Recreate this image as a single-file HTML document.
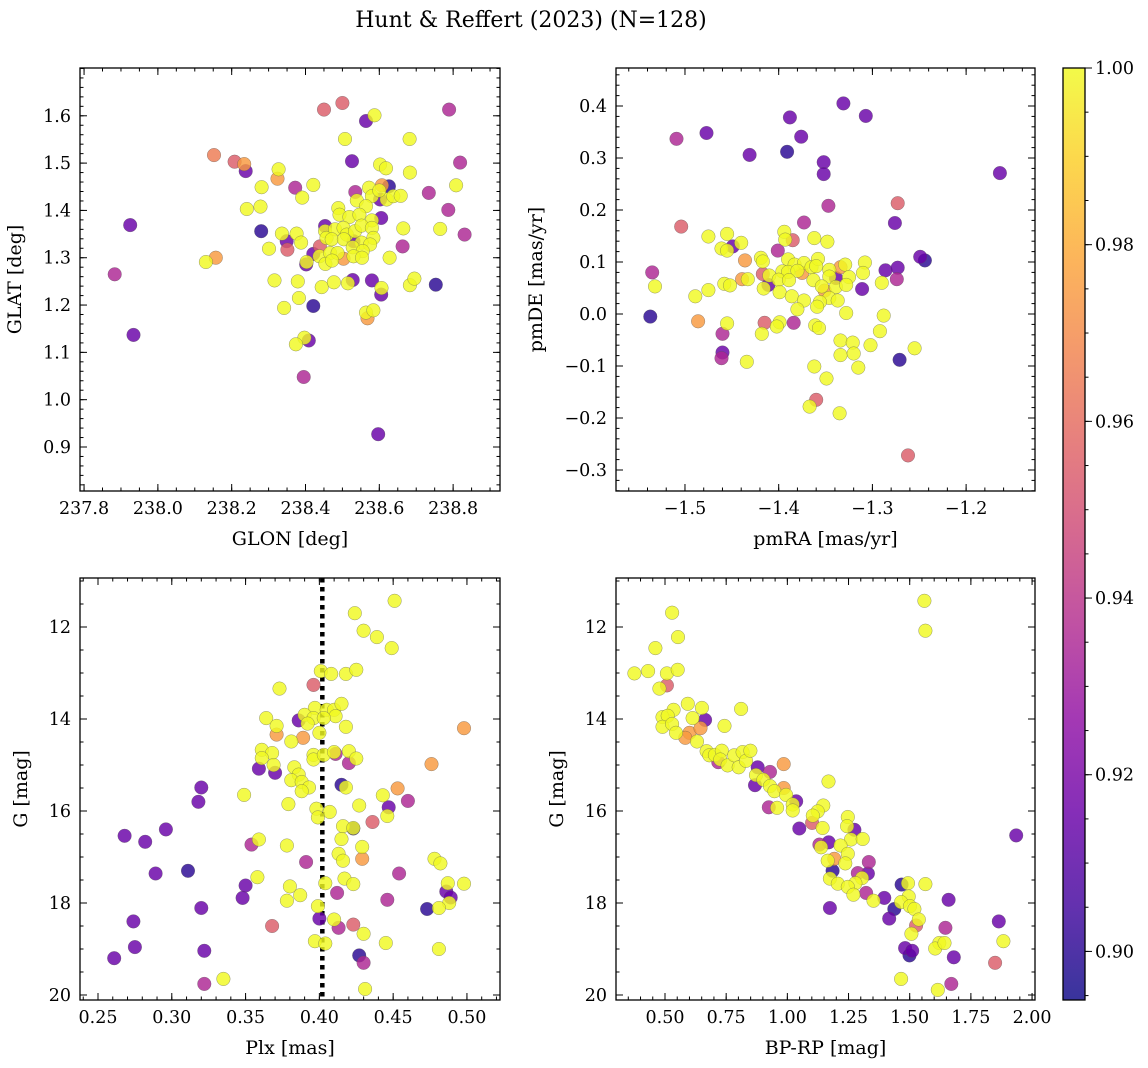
<!DOCTYPE html>
<html><head><meta charset="utf-8">
<style>
html,body{margin:0;padding:0;background:#fff;}
svg{display:block;font-family:"DejaVu Serif","Liberation Serif",serif;}
</style></head>
<body>
<svg id="fig" width="1148" height="1068" viewBox="0 0 1148 1068" xmlns="http://www.w3.org/2000/svg">
<defs>
<linearGradient id="plasmaGrad" x1="0" y1="1" x2="0" y2="0">
<stop offset="0" stop-color="#0d0887"/><stop offset="0.1" stop-color="#41049d"/><stop offset="0.2" stop-color="#6a00a8"/><stop offset="0.3" stop-color="#8f0da4"/><stop offset="0.4" stop-color="#b12a90"/><stop offset="0.5" stop-color="#cc4778"/><stop offset="0.6" stop-color="#e16462"/><stop offset="0.7" stop-color="#f2844b"/><stop offset="0.8" stop-color="#fca636"/><stop offset="0.9" stop-color="#fcce25"/><stop offset="1" stop-color="#f0f921"/>
</linearGradient>
</defs>
<text x="531" y="27" font-size="22" text-anchor="middle">Hunt &amp; Reffert (2023) (N=128)</text>
</svg>
<script>
const Y=1.0,P=0.915,D=0.90,M=0.935,R=0.955,O=0.975;
const VMIN=0.8945,VMAX=1.0;

// Panel 1: GLON vs GLAT
const glon=[238.450,238.500,238.564,238.587,238.789,238.507,238.682,238.152,238.208,238.234,238.238,238.327,238.324,238.526,238.819,238.602,238.618,238.683,238.281,238.372,238.421,238.391,238.535,238.539,238.572,238.607,238.626,238.580,238.602,238.620,238.638,238.658,238.600,238.734,238.808,238.241,238.278,238.787,238.564,238.489,238.492,238.519,238.546,238.605,238.580,237.925,237.934,237.883,238.280,238.453,238.453,238.457,238.480,238.503,238.512,238.534,238.552,238.580,238.584,238.665,238.765,238.831,238.336,238.349,238.376,238.388,238.471,238.504,238.530,238.552,238.575,238.301,238.351,238.421,238.439,238.438,238.467,238.487,238.528,238.555,238.663,238.130,238.157,238.402,238.403,238.454,238.472,238.503,238.530,238.553,238.628,238.316,238.379,238.444,238.477,238.528,238.515,238.580,238.605,238.606,238.683,238.695,238.753,238.382,238.342,238.421,238.564,238.584,238.568,238.397,238.409,238.374,238.395,238.597,238.375];
const glat=[1.613,1.627,1.589,1.601,1.613,1.551,1.551,1.517,1.503,1.498,1.483,1.487,1.467,1.504,1.501,1.497,1.489,1.480,1.449,1.448,1.454,1.427,1.439,1.421,1.448,1.453,1.451,1.430,1.423,1.423,1.430,1.431,1.442,1.437,1.453,1.403,1.408,1.401,1.409,1.405,1.391,1.386,1.391,1.384,1.379,1.369,1.137,1.265,1.356,1.367,1.356,1.342,1.360,1.363,1.349,1.356,1.368,1.363,1.342,1.362,1.361,1.349,1.351,1.335,1.351,1.332,1.339,1.339,1.335,1.332,1.328,1.319,1.317,1.308,1.324,1.303,1.310,1.310,1.322,1.314,1.324,1.291,1.300,1.286,1.291,1.287,1.294,1.298,1.303,1.300,1.300,1.252,1.250,1.238,1.248,1.253,1.246,1.252,1.222,1.236,1.242,1.256,1.243,1.215,1.194,1.198,1.184,1.189,1.172,1.131,1.125,1.117,1.048,0.927,0.881];
const p1prob=[R,R,P,Y,M,Y,Y,0.965,R,O,P,Y,O,P,M,Y,Y,Y,Y,M,Y,Y,M,Y,Y,O,D,Y,P,Y,Y,Y,Y,M,Y,Y,Y,M,Y,Y,Y,Y,Y,P,Y,P,P,M,D,P,Y,Y,Y,Y,Y,Y,Y,Y,Y,Y,Y,M,Y,P,Y,Y,Y,Y,P,Y,Y,Y,R,P,R,Y,Y,Y,Y,Y,M,Y,O,P,Y,Y,Y,O,Y,Y,Y,Y,Y,Y,Y,P,Y,P,P,Y,Y,Y,D,Y,Y,D,Y,Y,O,Y,P,Y,M,P];

// Panel 2: pmRA vs pmDE
const pmra=[-1.331,-1.307,-1.388,-1.376,-1.509,-1.477,-1.431,-1.391,-1.352,-1.352,-1.164,-1.347,-1.273,-1.373,-1.276,-1.504,-1.475,-1.455,-1.394,-1.385,-1.393,-1.362,-1.348,-1.449,-1.440,-1.461,-1.455,-1.401,-1.436,-1.419,-1.417,-1.390,-1.383,-1.373,-1.365,-1.358,-1.360,-1.346,-1.334,-1.329,-1.308,-1.249,-1.244,-1.535,-1.286,-1.273,-1.310,-1.274,-1.410,-1.417,-1.396,-1.390,-1.380,-1.375,-1.400,-1.389,-1.346,-1.339,-1.325,-1.363,-1.532,-1.439,-1.433,-1.458,-1.452,-1.411,-1.416,-1.475,-1.489,-1.399,-1.354,-1.351,-1.339,-1.328,-1.290,-1.311,-1.386,-1.373,-1.346,-1.337,-1.356,-1.359,-1.380,-1.328,-1.288,-1.537,-1.486,-1.455,-1.415,-1.384,-1.399,-1.402,-1.361,-1.357,-1.460,-1.418,-1.292,-1.334,-1.321,-1.302,-1.255,-1.460,-1.461,-1.334,-1.320,-1.271,-1.434,-1.362,-1.315,-1.349,-1.360,-1.367,-1.335,-1.262];
const pmde=[0.405,0.381,0.378,0.341,0.337,0.348,0.306,0.312,0.292,0.269,0.271,0.208,0.213,0.176,0.175,0.168,0.149,0.154,0.158,0.142,0.143,0.146,0.139,0.130,0.137,0.126,0.122,0.122,0.103,0.108,0.101,0.105,0.095,0.098,0.090,0.106,0.092,0.085,0.090,0.095,0.099,0.110,0.103,0.080,0.084,0.089,0.079,0.067,0.074,0.077,0.082,0.081,0.083,0.079,0.066,0.065,0.072,0.069,0.071,0.065,0.053,0.067,0.067,0.058,0.055,0.056,0.049,0.046,0.034,0.042,0.053,0.045,0.052,0.056,0.060,0.048,0.034,0.026,0.031,0.026,0.023,0.014,0.009,0.002,-0.003,-0.005,-0.014,-0.018,-0.017,-0.017,-0.016,-0.024,-0.022,-0.027,-0.038,-0.038,-0.033,-0.051,-0.055,-0.060,-0.066,-0.074,-0.085,-0.079,-0.076,-0.088,-0.092,-0.101,-0.103,-0.124,-0.165,-0.178,-0.191,-0.272];
const p2prob=[P,P,P,P,M,P,P,D,P,P,P,M,R,M,P,R,Y,Y,Y,R,Y,Y,Y,P,Y,Y,Y,M,O,Y,Y,Y,Y,Y,Y,Y,Y,Y,O,Y,Y,P,D,M,P,P,Y,M,Y,R,Y,Y,Y,O,Y,Y,Y,P,Y,Y,Y,O,Y,Y,Y,P,Y,Y,Y,Y,Y,O,Y,Y,Y,P,Y,Y,Y,Y,Y,Y,Y,Y,Y,D,O,Y,R,M,Y,Y,Y,Y,M,Y,Y,Y,Y,Y,Y,P,M,Y,Y,D,Y,Y,Y,Y,R,Y,Y,R];

// Panel 3: Plx vs G
const plx=[0.451,0.424,0.430,0.439,0.449,0.401,0.408,0.418,0.425,0.373,0.396,0.397,0.405,0.410,0.415,0.411,0.390,0.396,0.403,0.386,0.392,0.364,0.371,0.418,0.371,0.400,0.389,0.381,0.361,0.368,0.361,0.396,0.396,0.403,0.411,0.410,0.420,0.425,0.420,0.359,0.369,0.370,0.383,0.386,0.381,0.388,0.393,0.388,0.415,0.418,0.320,0.318,0.349,0.379,0.398,0.407,0.399,0.427,0.443,0.453,0.447,0.446,0.460,0.476,0.498,0.436,0.416,0.423,0.423,0.415,0.268,0.282,0.296,0.354,0.359,0.378,0.413,0.416,0.429,0.429,0.391,0.478,0.482,0.454,0.289,0.311,0.358,0.417,0.423,0.404,0.487,0.498,0.486,0.489,0.488,0.350,0.380,0.387,0.378,0.348,0.412,0.446,0.320,0.399,0.473,0.481,0.400,0.410,0.413,0.423,0.430,0.368,0.274,0.275,0.322,0.261,0.397,0.404,0.445,0.481,0.427,0.430,0.335,0.322,0.431];
const gmag3=[11.43,11.70,12.08,12.22,12.46,12.96,13.02,13.02,12.93,13.34,13.26,13.76,13.80,13.80,13.67,13.94,13.91,13.98,13.98,14.03,14.10,13.98,14.15,14.17,14.34,14.30,14.41,14.49,14.67,14.74,14.85,14.78,14.88,14.78,14.76,14.72,14.70,14.86,14.96,15.08,15.00,15.17,15.05,15.21,15.33,15.37,15.49,15.57,15.43,15.49,15.49,15.80,15.65,15.85,15.95,16.02,16.14,15.88,15.66,15.51,15.92,16.11,15.78,14.98,14.20,16.24,16.33,16.38,16.37,16.61,16.54,16.67,16.40,16.73,16.62,16.75,16.93,17.08,16.78,17.04,17.11,17.04,17.14,17.36,17.36,17.30,17.44,17.47,17.59,17.57,17.57,17.58,17.75,17.88,18.00,17.62,17.64,17.83,17.95,17.89,17.78,17.93,18.11,18.07,18.13,18.11,18.34,18.36,18.54,18.47,18.67,18.50,18.40,18.96,19.04,19.20,18.83,18.88,18.87,19.00,19.14,19.30,19.65,19.76,19.87];
const p3prob=[Y,Y,Y,Y,Y,Y,Y,Y,Y,Y,R,Y,Y,Y,Y,Y,Y,Y,Y,P,Y,Y,Y,Y,O,Y,O,Y,Y,Y,Y,Y,Y,Y,M,Y,Y,Y,M,P,Y,P,Y,Y,Y,Y,Y,Y,D,Y,P,P,Y,Y,Y,Y,Y,Y,Y,O,P,Y,M,O,O,R,Y,D,Y,Y,P,P,P,M,Y,Y,Y,Y,Y,O,M,Y,Y,M,P,D,Y,Y,Y,Y,Y,Y,P,P,Y,P,Y,Y,Y,P,M,M,P,Y,D,Y,P,Y,M,R,Y,R,P,P,P,P,Y,Y,Y,Y,D,M,Y,M,Y];
const plxCut=0.402;

// Panel 4: BP-RP vs G
const bprp=[1.560,1.564,0.529,0.553,0.461,0.375,0.431,0.508,0.552,0.508,0.477,0.593,0.651,0.535,0.490,0.511,0.613,0.664,0.743,0.811,0.490,0.529,0.545,0.600,0.645,0.583,0.631,0.670,0.681,0.704,0.732,0.718,0.726,0.756,0.783,0.801,0.817,0.831,0.849,0.879,0.929,0.985,0.872,0.868,0.902,0.929,0.947,0.985,0.995,1.036,1.022,1.022,0.924,0.958,1.168,1.147,1.124,1.104,1.101,1.144,1.049,1.247,1.244,1.274,1.260,1.308,1.169,1.131,1.138,1.217,1.247,1.192,1.165,1.237,1.333,1.185,1.174,1.206,1.288,1.329,1.305,1.278,1.247,1.270,1.322,1.352,1.396,1.174,1.467,1.493,1.564,1.496,1.465,1.437,1.501,1.519,1.416,1.537,1.526,1.507,1.659,1.646,1.864,1.935,1.883,1.621,1.604,1.642,1.680,1.481,1.499,1.510,1.849,1.465,1.670,1.615];
const gmag4=[11.43,12.08,11.69,12.22,12.46,13.01,12.96,13.01,12.93,13.27,13.34,13.67,13.76,13.80,13.96,13.93,13.98,14.02,14.15,13.78,14.17,14.11,14.30,14.30,14.20,14.41,14.49,14.70,14.79,14.78,14.69,14.94,14.88,15.01,14.79,15.05,14.72,14.91,14.69,15.05,15.15,14.98,15.22,15.44,15.32,15.46,15.57,15.50,15.65,15.79,15.86,15.99,15.92,15.93,15.36,15.88,16.01,16.10,16.26,16.37,16.38,16.13,16.33,16.41,16.62,16.61,16.68,16.73,16.79,16.75,16.93,17.04,17.08,17.14,17.11,17.30,17.47,17.58,17.35,17.36,17.46,17.57,17.65,17.82,17.78,17.95,17.89,18.11,17.60,17.57,17.59,17.86,17.98,18.13,18.07,18.13,18.34,18.36,18.49,18.67,17.93,18.54,18.40,16.53,18.83,18.87,18.99,18.87,19.18,18.98,19.14,19.04,19.30,19.65,19.76,19.89];
const p4prob=[Y,Y,Y,Y,Y,Y,Y,Y,Y,R,Y,Y,Y,Y,Y,Y,Y,P,Y,Y,Y,Y,Y,O,O,O,Y,Y,Y,Y,Y,M,Y,Y,Y,Y,Y,Y,Y,P,M,O,Y,P,Y,Y,Y,O,Y,P,Y,Y,M,Y,Y,Y,Y,Y,R,Y,P,Y,Y,P,Y,Y,P,M,Y,Y,Y,O,Y,Y,M,D,Y,Y,M,P,Y,Y,Y,Y,M,Y,P,P,D,Y,Y,Y,Y,D,Y,Y,P,Y,R,Y,P,M,P,P,Y,Y,Y,Y,P,P,D,P,R,Y,M,Y];

const cbTicks=[0.90,0.92,0.94,0.96,0.98,1.00];

const NS="http://www.w3.org/2000/svg";
const svg=document.getElementById('fig');
const TICKFS=17.5,LABFS=19;
const stops=[[13,8,135],[65,4,157],[106,0,168],[143,13,164],[177,42,144],[204,71,120],[225,100,98],[242,132,75],[252,166,54],[252,206,37],[240,249,33]];
function plasma(v){
  let t=(v-VMIN)/(VMAX-VMIN);t=Math.max(0,Math.min(1,t))*10;
  const i=Math.min(9,Math.floor(t)),f=t-i;
  const c=stops[i].map((a,k)=>Math.round(a+(stops[i+1][k]-a)*f));
  return `rgb(${c[0]},${c[1]},${c[2]})`;
}
function el(tag,attrs,parent){const e=document.createElementNS(NS,tag);for(const k in attrs)e.setAttribute(k,attrs[k]);(parent||svg).appendChild(e);return e;}
function fmt(v,d){return v.toFixed(d).replace('-','\u2212');}

function panel(c){
  const g=el('g',{});
  
  
  const sx=v=>c.px0+(v-c.xmin)/(c.xmax-c.xmin)*(c.px1-c.px0);
  const sy=v=>c.py1+(v-c.ybot)/(c.ytop-c.ybot)*(c.py0-c.py1);
  if(c.vline!==undefined){
    const l=el('line',{x1:sx(c.vline),x2:sx(c.vline),y1:c.py0,y2:c.py1,stroke:'#000','stroke-width':4.5,'stroke-dasharray':'4.5 4.5'},g);
    
    
  }
  const idx=c.xs.map((_,i)=>i).slice(0,Math.min(c.xs.length,c.ys.length,c.ps.length));
  idx.sort((a,b)=>c.ps[a]-c.ps[b]);
  const clip='clip-'+c.name;
  const cp=el('clipPath',{id:clip},g);el('rect',{x:c.px0,y:c.py0,width:c.px1-c.px0,height:c.py1-c.py0},cp);
  const pg=el('g',{'clip-path':`url(#${clip})`},g);
  idx.forEach(i=>{
    const pt=el('circle',{cx:sx(c.xs[i]).toFixed(1),cy:sy(c.ys[i]).toFixed(1),r:6.8,fill:plasma(c.ps[i]),'fill-opacity':0.82,stroke:'#555','stroke-opacity':0.6,'stroke-width':0.5},pg);
    
    
  });
  const fr=el('rect',{x:c.px0,y:c.py0,width:c.px1-c.px0,height:c.py1-c.py0,fill:'none',stroke:'#000','stroke-width':1.3},g);
  
  
  const eps=1e-9;
  function xt(v,len){const x=sx(v);if(x<c.px0-0.5||x>c.px1+0.5)return;el('line',{x1:x,x2:x,y1:c.py1,y2:c.py1-len,stroke:'#000','stroke-width':1},g);el('line',{x1:x,x2:x,y1:c.py0,y2:c.py0+len,stroke:'#000','stroke-width':1},g);}
  function yt(v,len){const y=sy(v);if(y<c.py0-0.5||y>c.py1+0.5)return;el('line',{x1:c.px0,x2:c.px0+len,y1:y,y2:y,stroke:'#000','stroke-width':1},g);el('line',{x1:c.px1,x2:c.px1-len,y1:y,y2:y,stroke:'#000','stroke-width':1},g);}
  const xlo=Math.min(c.xmin,c.xmax),xhi=Math.max(c.xmin,c.xmax);
  for(let v=Math.ceil(xlo/c.xminor-eps)*c.xminor;v<=xhi+eps;v+=c.xminor)xt(v,3.5);
  const ylo=Math.min(c.ybot,c.ytop),yhi=Math.max(c.ybot,c.ytop);
  for(let v=Math.ceil(ylo/c.yminor-eps)*c.yminor;v<=yhi+eps;v+=c.yminor)yt(v,3.5);
  c.xticks.forEach(v=>{xt(v,7);const t=el('text',{x:sx(v),y:c.py1+23,'font-size':TICKFS,'text-anchor':'middle'},g);t.textContent=fmt(v,c.xdec);});
  c.yticks.forEach(v=>{yt(v,7);const t=el('text',{x:c.px0-9,y:sy(v)+6,'font-size':TICKFS,'text-anchor':'end'},g);t.textContent=fmt(v,c.ydec);});
  const xl=el('text',{x:(c.px0+c.px1)/2,y:c.py1+54,'font-size':LABFS,'text-anchor':'middle'},g);xl.textContent=c.xlabel;
  
  
  const yx=c.ylabelX,yy=(c.py0+c.py1)/2;
  const yl=el('text',{x:yx,y:yy,'font-size':LABFS,'text-anchor':'middle',transform:`rotate(-90 ${yx} ${yy})`},g);yl.textContent=c.ylabel;
  
  
}
function rng(a,b,s){const r=[];for(let v=a;v<=b+1e-9;v+=s)r.push(Math.round(v*1000)/1000);return r;}

panel({name:'glon-glat-panel',px0:80,px1:500,py0:68,py1:491,xmin:237.789,xmax:238.927,ybot:0.807,ytop:1.701,xs:glon,ys:glat,ps:p1prob,xticks:rng(237.8,238.8,0.2),xminor:0.05,xdec:1,yticks:rng(0.9,1.6,0.1),yminor:0.02,ydec:1,xlabel:'GLON [deg]',ylabel:'GLAT [deg]',ylabelX:21});
panel({name:'pm-panel',px0:616,px1:1035,py0:68,py1:491,xmin:-1.5736,xmax:-1.1265,ybot:-0.3404,ytop:0.4731,xs:pmra,ys:pmde,ps:p2prob,xticks:[-1.5,-1.4,-1.3,-1.2],xminor:0.02,xdec:1,yticks:rng(-0.3,0.4,0.1),yminor:0.02,ydec:1,xlabel:'pmRA [mas/yr]',ylabel:'pmDE [mas/yr]',ylabelX:542});
panel({name:'plx-g-panel',px0:80,px1:500,py0:578,py1:1000,xmin:0.2378,xmax:0.5224,ybot:20.109,ytop:10.935,xs:plx,ys:gmag3,ps:p3prob,xticks:rng(0.25,0.5,0.05),xminor:0.01,xdec:2,yticks:[12,14,16,18,20],yminor:0.5,ydec:0,xlabel:'Plx [mas]',ylabel:'G [mag]',ylabelX:27,vline:plxCut});
panel({name:'cmd-panel',px0:616,px1:1035,py0:578,py1:1000,xmin:0.2998,xmax:2.012,ybot:20.109,ytop:10.935,xs:bprp,ys:gmag4,ps:p4prob,xticks:rng(0.5,2.0,0.25),xminor:0.05,xdec:2,yticks:[12,14,16,18,20],yminor:0.5,ydec:0,xlabel:'BP-RP [mag]',ylabel:'G [mag]',ylabelX:563});

// colorbar
const cb=el('g',{});


const cx0=1063,cx1=1085,cy0=68,cy1=1000;
el('rect',{x:cx0,y:cy0,width:cx1-cx0,height:cy1-cy0,fill:'url(#plasmaGrad)','fill-opacity':0.82},cb);
el('rect',{x:cx0,y:cy0,width:cx1-cx0,height:cy1-cy0,fill:'none',stroke:'#000','stroke-width':1.3},cb);
const cby=v=>cy1-(v-VMIN)/(VMAX-VMIN)*(cy1-cy0);
for(let v=0.895;v<=1.0001;v+=0.005){const y=cby(v);el('line',{x1:cx1,x2:cx1+3.5,y1:y,y2:y,stroke:'#000','stroke-width':1},cb);}
cbTicks.forEach(v=>{const y=cby(v);el('line',{x1:cx1,x2:cx1+7,y1:y,y2:y,stroke:'#000','stroke-width':1},cb);
  const t=el('text',{x:cx1+10,y:y+6,'font-size':TICKFS},cb);t.textContent=v.toFixed(2);
  
  });
</script>
</body></html>
